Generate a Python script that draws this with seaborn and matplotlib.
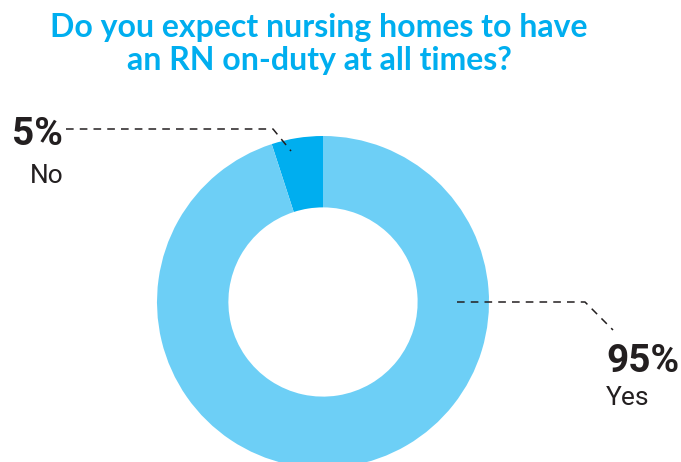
import matplotlib
matplotlib.use("Agg")
import matplotlib.pyplot as plt
import seaborn as sns
from matplotlib.lines import Line2D

# data
labels = ["No", "Yes"]
shares = [5, 95]
pct_text = ["5%", "95%"]
title = "Do you expect nursing homes to have\nan RN on-duty at all times?"

colors = ["#00AEEF", "#6DCFF6"]

sns.set_theme(style="white")
plt.rcParams['font.family'] = ['Lato', 'DejaVu Sans']

W, H = 681, 462
fig = plt.figure(figsize=(W / 100, H / 100), dpi=100)

# donut centre and radius in pixels
cx, cy, r = 323, 302, 166
ax = fig.add_axes([(cx - r) / W, (H - cy - r) / H, 2 * r / W, 2 * r / H])
ax.pie(shares, colors=colors, startangle=90, counterclock=True,
       radius=1.0, wedgeprops=dict(width=0.43, edgecolor="none"))
ax.set_xlim(-1, 1)
ax.set_ylim(-1, 1)
ax.set_aspect("equal")
ax.axis("off")
for p in ax.patches:
    p.set_clip_on(False)

fig.text(319 / W, 1 - 44 / H, title, ha="center", va="center",
         fontsize=23, fontweight="bold", color="#00AEEF",
         linespacing=1.2)


def px(x, y):
    return ((x - cx) / r, (cy - y) / r)


def leader(points):
    xs, ys = zip(*[px(x, y) for x, y in points])
    ax.add_line(Line2D(xs, ys, color="#231f20", lw=1.1, ls=(0, (5, 4)),
                       clip_on=False))


leader([(66, 129), (273, 129), (291, 151)])
leader([(457, 302), (585, 302), (613, 330)])

cond = ['Roboto', 'DejaVu Sans']
fig.text(63 / W, 1 - 135 / H, pct_text[0], ha="right", va="center",
         fontsize=28, fontweight="bold", color="#231f20", family=cond)
fig.text(63 / W, 1 - 176 / H, labels[0], ha="right", va="center",
         fontsize=19, color="#231f20", family=cond)
fig.text(679 / W, 1 - 361 / H, pct_text[1], ha="right", va="center",
         fontsize=28, fontweight="bold", color="#231f20", family=cond)
fig.text(606 / W, 1 - 398 / H, labels[1], ha="left", va="center",
         fontsize=19, color="#231f20", family=cond)

fig.savefig("out.png", dpi=100)
